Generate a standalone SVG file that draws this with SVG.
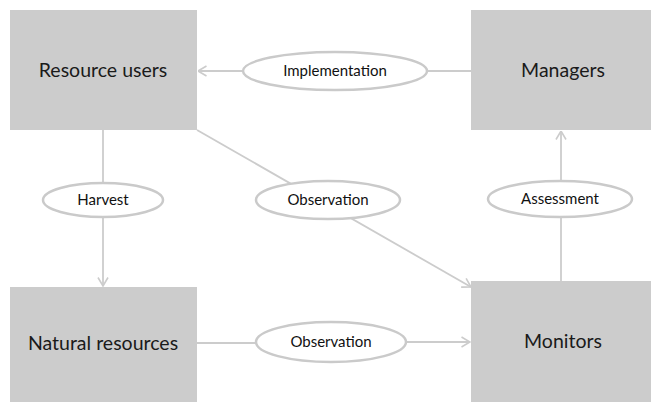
<svg xmlns="http://www.w3.org/2000/svg" width="651" height="409" viewBox="0 0 651 409">
<style>
.box{fill:#cccccc;}
.ell{fill:#ffffff;stroke:#cacaca;stroke-width:2.5;}
.ln{fill:none;stroke:#cccccc;stroke-width:1.8;}
.big{font-family:Lato,"Open Sans",sans-serif;font-size:19.5px;fill:#1a1a1a;text-anchor:middle;}
.sm{font-family:Lato,"Open Sans",sans-serif;font-size:15px;fill:#111111;text-anchor:middle;}
</style>
<defs>
<marker id="arr" viewBox="0 0 10 12" refX="9.5" refY="6" markerWidth="10" markerHeight="12" markerUnits="userSpaceOnUse" orient="auto">
<path d="M1,1 L9.5,6 L1,11" fill="none" stroke="#cccccc" stroke-width="1.6"/>
</marker>
</defs>
<rect width="651" height="409" fill="#ffffff"/>
<g id="connectors">
<line class="ln" x1="471" y1="71" x2="427" y2="71"/>
<line class="ln" x1="243" y1="71" x2="198" y2="71" marker-end="url(#arr)"/>
<line class="ln" x1="103" y1="130" x2="103" y2="183"/>
<line class="ln" x1="103" y1="218" x2="103" y2="286" marker-end="url(#arr)"/>
<line class="ln" x1="197" y1="130" x2="471" y2="287" marker-end="url(#arr)"/>
<line class="ln" x1="561" y1="281" x2="561" y2="218"/>
<line class="ln" x1="561" y1="181" x2="561" y2="131" marker-end="url(#arr)"/>
<line class="ln" x1="197" y1="343" x2="256" y2="343"/>
<line class="ln" x1="406" y1="342" x2="470" y2="342" marker-end="url(#arr)"/>
</g>
<g id="resource-users">
<rect class="box" x="10" y="10" width="187" height="120"/>
<text class="big" x="103" y="77">Resource users</text>
</g>
<g id="managers">
<rect class="box" x="471" y="10" width="180" height="120"/>
<text class="big" x="563" y="77">Managers</text>
</g>
<g id="natural-resources">
<rect class="box" x="10" y="287" width="187" height="115"/>
<text class="big" x="103" y="350">Natural resources</text>
</g>
<g id="monitors">
<rect class="box" x="471" y="281" width="180" height="121"/>
<text class="big" x="563" y="348">Monitors</text>
</g>
<g id="implementation">
<ellipse class="ell" cx="335" cy="71" rx="92" ry="19"/>
<text class="sm" x="335" y="76">Implementation</text>
</g>
<g id="harvest">
<ellipse class="ell" cx="103" cy="200" rx="60" ry="17"/>
<text class="sm" x="103" y="205">Harvest</text>
</g>
<g id="observation-1">
<ellipse class="ell" cx="328" cy="200" rx="72" ry="19"/>
<text class="sm" x="328" y="205">Observation</text>
</g>
<g id="assessment">
<ellipse class="ell" cx="560" cy="199" rx="72" ry="18"/>
<text class="sm" x="560" y="204">Assessment</text>
</g>
<g id="observation-2">
<ellipse class="ell" cx="331" cy="342" rx="75" ry="20"/>
<text class="sm" x="331" y="347">Observation</text>
</g>
</svg>
